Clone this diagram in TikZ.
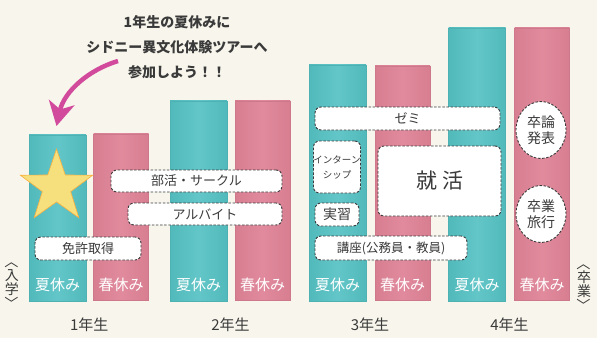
\documentclass[tikz,border=0pt]{standalone}
\usepackage{fontspec}
\usepackage{graphicx}
\newfontfamily\jp{Noto Sans CJK JP}
\usetikzlibrary{shapes.geometric,arrows.meta,positioning,calc}
\definecolor{paper}{HTML}{F8F6EC}
\definecolor{sumteal}{HTML}{55C1C3}
\definecolor{winpink}{HTML}{E08397}
\definecolor{inkgray}{HTML}{3A3A3A}
\definecolor{arrowpink}{HTML}{D24A9C}
\definecolor{staryellow}{HTML}{F6E07E}
\newcommand{\upbr}{\rotatebox[origin=c]{-90}{〈}}
\newcommand{\downbr}{\rotatebox[origin=c]{-90}{〉}}

\begin{document}
\begin{tikzpicture}[x=1pt,y=-1pt,
		every node/.style={font=\jp, text=inkgray},
		sumbar/.style={left color=sumteal!96!black, right color=sumteal!96!black, middle color=sumteal!92!white,
				draw=sumteal!92!black, line width=0.4pt, minimum width=57pt, inner sep=0pt},
		winbar/.style={left color=winpink!96!black, right color=winpink!96!black, middle color=winpink!94!white,
				draw=winpink!92!black, line width=0.4pt, minimum width=55pt, inner sep=0pt},
		barlabel/.style={text=white, font=\jp\fontsize{15}{15}\selectfont},
		yearlabel/.style={font=\jp\fontsize{15}{15}\selectfont},
		dashline/.style={draw=inkgray, line width=0.9pt, dash pattern=on 2.5pt off 1.6pt},
		task/.style={dashline, fill=white, rounded corners=6pt, inner sep=0pt,
				font=\jp\fontsize{13}{13}\selectfont},
		event/.style={dashline, fill=white, ellipse, minimum width=50pt, minimum height=57pt,
				inner sep=0pt, align=center, font=\jp\fontsize{14}{16}\selectfont},
		stage/.style={align=center, inner sep=0pt, font=\jp\fontsize{14}{14}\selectfont},
	]
	\fill[paper] (0,0) rectangle (597,338);
	\useasboundingbox (0,0) rectangle (597,338);
	%
	% bars for each year
	\foreach \i/\sx/\stop/\wx/\wtop in {1/57.5/135/121/134, 2/198.5/101/262.5/101,
			3/337.5/65/402.5/66, 4/477/28/542/28} {
		\node[sumbar, minimum height={301-\stop}, anchor=south] (sum\i) at (\sx,301) {};
		\node[winbar, minimum height={300-\wtop}, anchor=south] (win\i) at (\wx,300) {};
		\node[barlabel] at ([yshift=16]sum\i.south) {夏休み};
		\node[barlabel] at ([yshift=15]win\i.south) {春休み};
		\node[yearlabel] at ($(sum\i.south)!0.5!(win\i.south)+(0,24)$) {\i 年生};
	}
	%
	\node[star, star points=5, star point ratio=2.55, minimum size=76pt, inner sep=0pt,
		fill=staryellow, draw=orange!50!staryellow, line width=0.6pt] (star) at (56.5,187) {};
	%
	\node[align=center, font=\jp\bfseries\fontsize{14}{25}\selectfont] (note) at (177,47)
		{1年生の夏休みに\\シドニー異文化体験ツアーへ\\参加しよう！！};
	\coordinate (tail) at (118,61);
	\draw[arrowpink, line width=4.5pt, -{Stealth[length=24pt, width=26pt, inset=7pt]}]
		(tail) .. controls (88,70) and (64,92) .. ([yshift=22]star.north);
	%
	% activities
	\node[task, minimum width=106pt, minimum height=23pt] (license) at (88,248.5) {免許取得};
	\node[task, minimum width=171pt, minimum height=22pt] (club) at (196.5,181) {部活・サークル};
	\node[task, minimum width=154pt, minimum height=22pt] (job) at (205,214) {アルバイト};
	\node[task, minimum width=185pt, minimum height=23pt] (seminar) at (407.5,118.5) {ゼミ};
	\node[task, minimum width=44pt, minimum height=52pt, align=center,
		font=\jp\fontsize{9.5}{15}\selectfont] (intern) at (337,167) {インターン\\シップ};
	\node[task, minimum width=123pt, minimum height=70pt,
		font=\jp\fontsize{21}{21}\selectfont] (hunt) at (439.5,181) {就\hspace{5pt}活};
	\node[task, minimum width=44pt, minimum height=23pt,
		font=\jp\fontsize{14}{14}\selectfont] (practice) at (337,214.5) {実習};
	\node[task, minimum width=152pt, minimum height=24pt,
		font=\jp\fontsize{12.5}{12.5}\selectfont] (course) at (391,248) {講座(公務員・教員)};
	\node[event] (thesis) at (541,130) {卒論\\発表};
	\node[event] (trip) at (541,214) {卒業\\旅行};
	%
	\node[stage] (entry) at (12,282) {\upbr\\入\\学\\\downbr};
	\node[stage] (grad) at (584,284) {\upbr\\卒\\業\\\downbr};
\end{tikzpicture}
\end{document}
